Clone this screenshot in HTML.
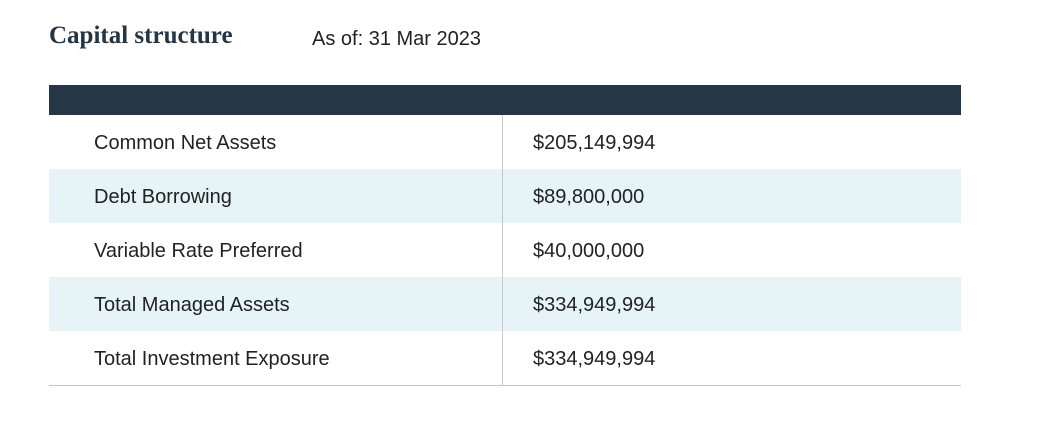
<!DOCTYPE html>
<html><head><meta charset="utf-8"><style>
body{margin:0;width:1049px;height:435px;background:#fff;position:relative;overflow:hidden;font-family:"Liberation Sans",sans-serif;color:#222}
#title{position:absolute;left:49px;top:22px;font:bold 25px "Liberation Serif",serif;color:#243646;white-space:nowrap}
#asof{position:absolute;left:312px;top:28px;font-size:20px;color:#222;white-space:nowrap}
#hdr{position:absolute;left:49px;top:85px;width:912px;height:30px;background:#253646}
.row{position:absolute;left:49px;width:912px;height:54px;font-size:20px;line-height:54px}
.row.alt{background:#e6f3f7}
.row span{position:absolute;top:1px}
.l{left:45px}.v{left:484px}
#div{position:absolute;left:502px;top:115px;width:1px;height:270px;background:#c6c6c6}
#bot{position:absolute;left:49px;top:385px;width:912px;height:1px;background:#c6c6c6}
</style></head><body>
<div id="title">Capital structure</div>
<div id="asof">As of: 31 Mar 2023</div>
<div id="hdr"></div>
<div class="row" style="top:115px"><span class="l">Common Net Assets</span><span class="v">$205,149,994</span></div>
<div class="row alt" style="top:169px"><span class="l">Debt Borrowing</span><span class="v">$89,800,000</span></div>
<div class="row" style="top:223px"><span class="l">Variable Rate Preferred</span><span class="v">$40,000,000</span></div>
<div class="row alt" style="top:277px"><span class="l">Total Managed Assets</span><span class="v">$334,949,994</span></div>
<div class="row" style="top:331px"><span class="l">Total Investment Exposure</span><span class="v">$334,949,994</span></div>
<div id="div"></div>
<div id="bot"></div>
</body></html>
